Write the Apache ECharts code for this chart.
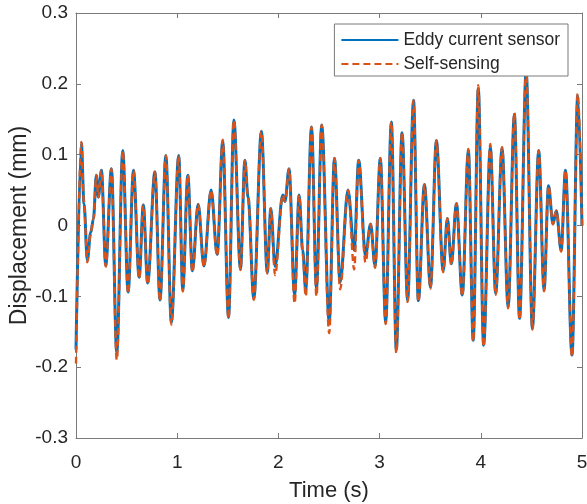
<!DOCTYPE html>
<html>
<head>
<meta charset="utf-8">
<script src="https://cdn.jsdelivr.net/npm/echarts@6/dist/echarts.min.js"></script>
<style>html,body{margin:0;padding:0;background:#fff}#c{width:587px;height:504px}</style>
</head>
<body>
<div id="c"></div>
<script>
const timeS = [0.000,0.053,0.079,0.112,0.145,0.172,0.201,0.221,0.251,0.294,0.350,0.403,0.462,0.515,0.568,0.624,0.665,0.708,0.780,0.830,0.888,0.942,1.015,1.055,1.105,1.150,1.207,1.264,1.335,1.395,1.450,1.507,1.560,1.625,1.669,1.700,1.757,1.832,1.890,1.925,1.967,2.043,2.065,2.105,2.160,2.205,2.240,2.270,2.327,2.376,2.428,2.502,2.554,2.610,2.688,2.749,2.793,2.861,2.911,2.955,3.007,3.060,3.116,3.165,3.222,3.277,3.335,3.383,3.443,3.503,3.561,3.628,3.670,3.709,3.759,3.817,3.877,3.925,3.975,4.028,4.094,4.147,4.210,4.270,4.332,4.383,4.448,4.510,4.572,4.625,4.669,4.713,4.746,4.794,4.837,4.901,4.958,5.000];
const eddyMm = [-0.175,0.116,0.031,-0.049,-0.010,0.009,0.071,0.040,0.078,-0.056,0.080,-0.180,0.106,-0.094,0.078,-0.073,0.029,-0.081,0.076,-0.105,0.099,-0.137,0.099,-0.091,0.071,-0.064,0.030,-0.057,0.050,-0.041,0.119,-0.130,0.149,-0.061,0.092,0.040,-0.103,0.133,-0.066,0.024,-0.058,0.043,0.034,0.080,-0.098,0.043,-0.035,-0.091,0.139,-0.089,0.142,-0.136,0.095,-0.080,0.050,-0.035,0.092,-0.042,0.002,-0.057,0.095,-0.137,0.146,-0.175,0.131,-0.106,0.177,-0.106,0.058,-0.087,0.120,-0.064,0.010,-0.054,0.031,-0.098,0.106,-0.162,0.193,-0.169,0.111,-0.096,0.109,-0.115,0.157,-0.131,0.217,-0.145,0.106,-0.091,0.056,0.002,0.021,-0.035,0.078,-0.183,0.184,0.000];
const selfMm = [-0.195,0.118,0.031,-0.052,-0.010,0.009,0.071,0.040,0.078,-0.058,0.080,-0.190,0.106,-0.096,0.078,-0.075,0.029,-0.083,0.076,-0.107,0.099,-0.140,0.099,-0.093,0.071,-0.066,0.030,-0.059,0.050,-0.043,0.121,-0.132,0.149,-0.063,0.092,0.040,-0.105,0.133,-0.068,0.024,-0.070,0.043,0.034,0.080,-0.110,0.043,-0.040,-0.100,0.139,-0.100,0.142,-0.152,0.095,-0.090,0.050,-0.062,0.092,-0.052,0.002,-0.060,0.095,-0.139,0.146,-0.180,0.131,-0.108,0.177,-0.108,0.058,-0.089,0.120,-0.066,0.010,-0.056,0.031,-0.100,0.108,-0.164,0.198,-0.171,0.115,-0.098,0.111,-0.117,0.159,-0.133,0.219,-0.147,0.106,-0.093,0.056,0.002,0.021,-0.037,0.078,-0.185,0.186,0.000];
const xTicks = [0,1,2,3,4,5];
const yTicks = [-0.3,-0.2,-0.1,0,0.1,0.2,0.3];
const seriesNames = ['Eddy current sensor','Self-sensing'];

const eddyData = timeS.map((t,i)=>[t, eddyMm[i]]);
const selfData = timeS.map((t,i)=>[t, selfMm[i]]);

const axisColor = '#7a7a7a';
const textColor = '#262626';
const font = 'Liberation Sans, Arial, Helvetica, sans-serif';
const fmt = v => String(Math.round(v*10)/10);

const axLine = {show: true, onZero: false, lineStyle: {color: axisColor, width: 1}};
const axTick = {show: true, inside: true, length: 5, lineStyle: {color: axisColor}};

const chart = echarts.init(document.getElementById('c'), null, {renderer:'canvas'});
chart.setOption({
  animation: false,
  backgroundColor: '#ffffff',
  textStyle: {fontFamily: font},
  grid: {left: 76, right: 5, top: 13, bottom: 66, containLabel: false, outerBoundsMode: 'none'},
  legend: {
    orient: 'vertical', right: 19, top: 24,
    itemWidth: 57, itemHeight: 16, itemGap: 6,
    padding: [7, 8, 3, 6],
    borderColor: '#7a7a7a', borderWidth: 1, backgroundColor: '#fff',
    itemStyle: {opacity: 0},
    textStyle: {fontSize: 17.5, color: textColor, fontFamily: font},
    data: seriesNames
  },
  xAxis: [{
    type: 'value', min: xTicks[0], max: xTicks[xTicks.length-1], interval: 1,
    name: 'Time (s)', nameLocation: 'middle', nameGap: 42, nameMoveOverlap: false,
    nameTextStyle: {fontSize: 22, color: textColor, fontFamily: font},
    axisLine: axLine, axisTick: axTick,
    axisLabel: {fontSize: 19, color: textColor, margin: 15, formatter: fmt},
    splitLine: {show: false}
  },{
    type: 'value', position: 'top', min: xTicks[0], max: xTicks[xTicks.length-1], interval: 1,
    axisLine: axLine, axisTick: axTick,
    axisLabel: {show: false}, splitLine: {show: false}
  }],
  yAxis: [{
    type: 'value', min: yTicks[0], max: yTicks[yTicks.length-1], interval: 0.1,
    name: 'Displacement (mm)', nameLocation: 'middle', nameGap: 45, nameMoveOverlap: false,
    nameTextStyle: {fontSize: 23, color: textColor, fontFamily: font},
    axisLine: axLine, axisTick: axTick,
    axisLabel: {fontSize: 19, color: textColor, margin: 8, formatter: fmt},
    splitLine: {show: false}
  },{
    type: 'value', position: 'right', min: yTicks[0], max: yTicks[yTicks.length-1], interval: 0.1,
    axisLine: axLine, axisTick: axTick,
    axisLabel: {show: false}, splitLine: {show: false}
  }],
  series: [{
    name: seriesNames[0], type: 'line', data: eddyData,
    xAxisIndex: 0, yAxisIndex: 0,
    symbol: 'none', smooth: 0.35, smoothMonotone: 'x',
    lineStyle: {color: '#0072BD', width: 3},
    itemStyle: {color: '#0072BD'}
  },{
    name: seriesNames[1], type: 'line', data: selfData,
    xAxisIndex: 0, yAxisIndex: 0,
    symbol: 'none', smooth: 0.35, smoothMonotone: 'x',
    lineStyle: {color: '#D95319', width: 2.4, type: [7, 4]},
    itemStyle: {color: '#D95319'}
  }]
});
</script>
</body>
</html>
